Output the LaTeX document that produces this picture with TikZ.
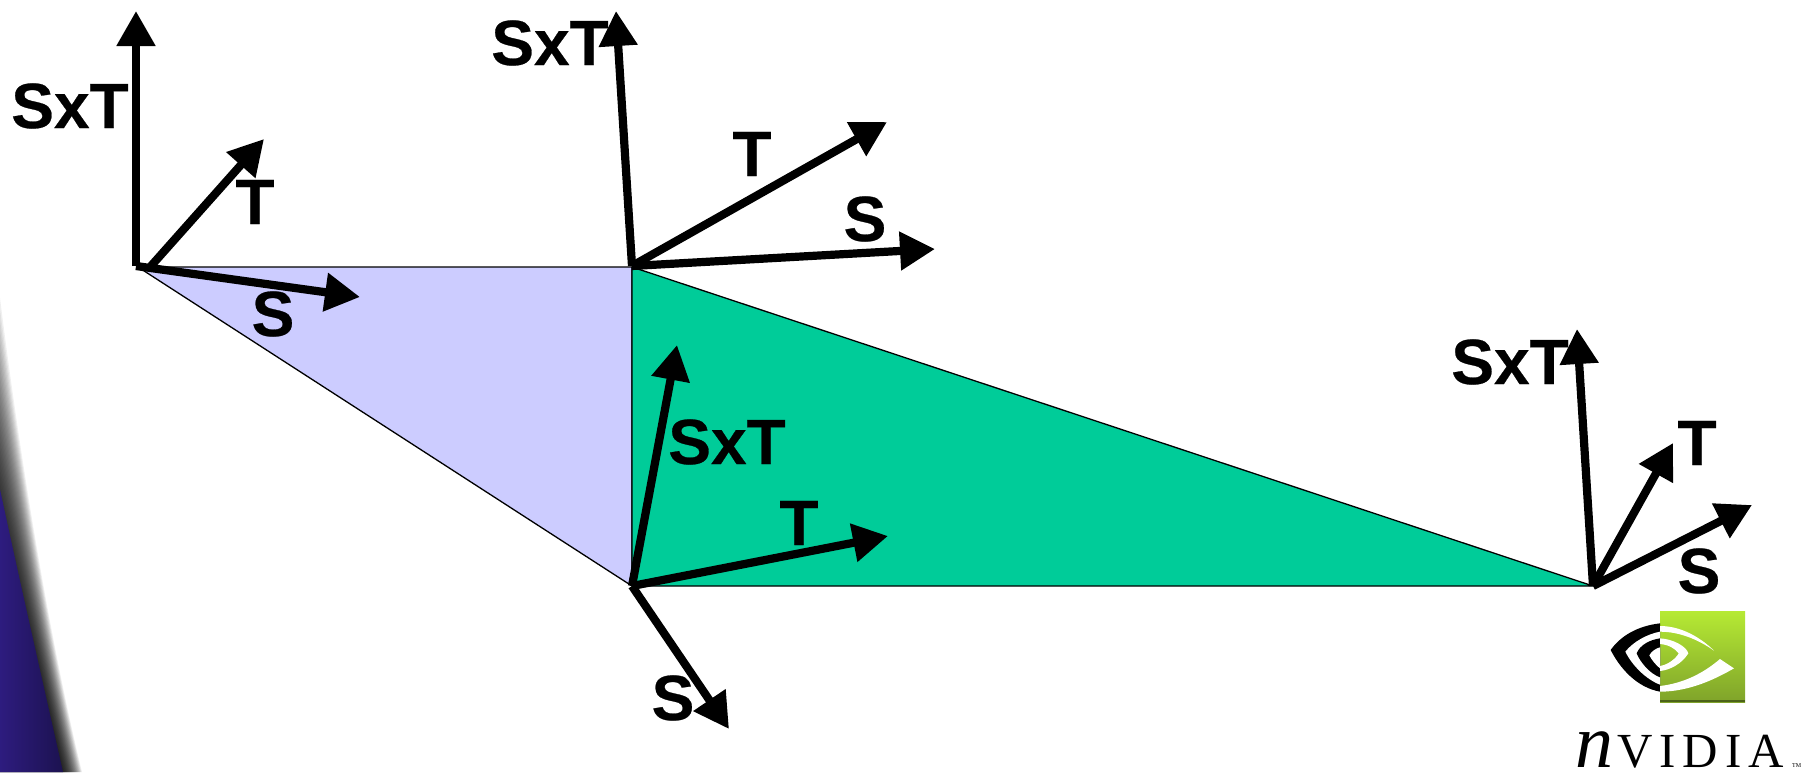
\documentclass[tikz,border=0pt]{standalone}
\usepackage{fontspec}
\setmainfont[BoldFeatures={FakeBold=0.4}]{Liberation Sans}
\newfontfamily\serifpart{Liberation Serif}
\usetikzlibrary{arrows.meta}
\definecolor{lilac}{HTML}{CCCCFF}
\definecolor{teal1}{HTML}{00CC99}
\definecolor{swooshL}{HTML}{2E1C80}
\definecolor{swooshR}{HTML}{1C1250}
\definecolor{logoHi}{HTML}{B6EA34}
\definecolor{logoLo}{HTML}{7FA32A}
\tikzset{
  vec/.style={line width=8.2pt,-{Triangle[length=35pt,width=37pt]}},
  lbl/.style={font=\bfseries\fontsize{64}{70}\selectfont,inner sep=0pt,anchor=center},
  tri/.style={draw=black,line width=1.3pt,line join=round},
}
\begin{document}
\begin{tikzpicture}[x=1pt,y=-1pt]
\useasboundingbox (0,0) rectangle (1809,772);
\fill[white] (0,0) rectangle (1809,772);
% background swoosh with soft shadow
\foreach \i in {0,...,29}{
  \pgfmathsetmacro{\f}{\i/29}
  \fill[black,opacity=0.06]
    ({-1-24*\f},{290+150*\f}) .. controls ({15-5*\f},{420+140*\f}) and ({45-7*\f},{620+50*\f}) .. ({82-19*\f},772) -- (-30,772) -- cycle;
}
\shade[left color=swooshL,right color=swooshR] (-2,480) .. controls (15,560) and (40,670) .. (63,772) -- (-2,772) -- cycle;
% triangles
\coordinate (A) at (138,267);
\coordinate (B) at (632,267);
\coordinate (C) at (632,586);
\coordinate (D) at (1593,586);
\filldraw[tri,fill=lilac] (A) -- (B) -- (C) -- cycle;
\filldraw[tri,fill=teal1] (B) -- (D) -- (C) -- cycle;
% frame origins and tips
\coordinate (a0) at (136,266);
\coordinate (a1) at (136,11);
\coordinate (a2t) at (151,266);
\coordinate (a2) at (264,139);
\coordinate (a3) at (360,297);
\coordinate (b0) at (632,266);
\coordinate (b1) at (616,11);
\coordinate (b2) at (887,122);
\coordinate (b3) at (935,249);
\coordinate (c0) at (632,586);
\coordinate (c1) at (677,345);
\coordinate (c2) at (888,536);
\coordinate (c3) at (729,729);
\coordinate (d0) at (1593,586);
\coordinate (d1) at (1577,329);
\coordinate (d2) at (1673,443);
\coordinate (d3) at (1752,505);
\draw[vec] (a0) -- (a1);
\draw[vec] (a2t) -- (a2);
\draw[vec] (a0) -- (a3);
\draw[vec] (b0) -- (b1);
\draw[vec] (b0) -- (b2);
\draw[vec] (b0) -- (b3);
\draw[vec] (c0) -- (c1);
\draw[vec] (c0) -- (c2);
\draw[vec] (c0) -- (c3);
\draw[vec] (d0) -- (d1);
\draw[vec] (d0) -- (d2);
\draw[vec] (d0) -- (d3);
% labels
\node[lbl] (la1) at (70,106) {SxT};
\node[lbl] (la2) at (255,202) {T};
\node[lbl] (la3) at (273,314) {S};
\node[lbl] (lb1) at (550,43) {SxT};
\node[lbl] (lb2) at (752,154) {T};
\node[lbl] (lb3) at (865,219) {S};
\node[lbl] (lc1) at (727,442) {SxT};
\node[lbl] (lc2) at (799,523) {T};
\node[lbl] (lc3) at (673,698) {S};
\node[lbl] (ld1) at (1510,362) {SxT};
\node[lbl] (ld2) at (1697,443) {T};
\node[lbl] (ld3) at (1699,571) {S};
% logo
\begin{scope}[shift={(1540,590)},x=0.3333pt,y=-0.3333pt]
  \shade[top color=logoHi,bottom color=logoLo] (360,63) rectangle (615,337);
  \fill[logoLo!60!black] (360,331) rectangle (615,337);
  % left half of the eye
  \fill[black] (360,100) .. controls (290,108) and (240,140) .. (212,180) .. controls (240,235) and (290,292) .. (360,305) -- cycle;
  \fill[white] (360,125) .. controls (322,132) and (280,155) .. (256,185) .. controls (276,226) and (318,268) .. (360,284) -- cycle;
  \fill[black] (360,145) .. controls (328,150) and (300,165) .. (290,190) .. controls (300,215) and (328,250) .. (360,262) -- cycle;
  \fill[white] (360,172) .. controls (348,175) and (334,184) .. (328,196) .. controls (334,208) and (348,226) .. (360,235) -- cycle;
  % right half of the eye
  \fill[white] (360,108) .. controls (430,108) and (490,150) .. (522,182) .. controls (505,170) and (440,125) .. (360,125) -- cycle;
  \fill[white] (360,145) .. controls (400,147) and (440,170) .. (445,190) .. controls (425,222) and (390,240) .. (360,243) -- (360,228) .. controls (385,224) and (408,205) .. (416,190) .. controls (405,175) and (385,164) .. (360,162) -- cycle;
  \fill[white] (360,305) .. controls (450,305) and (530,265) .. (582,235) -- (540,207) .. controls (490,250) and (430,280) .. (360,288) -- cycle;
\end{scope}
\node[font=\serifpart\itshape\fontsize{76}{80}\selectfont,inner sep=0pt,anchor=base west] (nv1) at (1575,767) {n};
\node[font=\serifpart\fontsize{49}{52}\selectfont,inner sep=0pt,anchor=base west] (nv2) at (1617,767) {V\hspace{7pt}I\hspace{7pt}D\hspace{7pt}I\hspace{7pt}A};
\node[font=\serifpart\fontsize{6}{7}\selectfont,inner sep=0pt,anchor=base west] (nv3) at (1792,767) {TM};
\end{tikzpicture}
\end{document}
